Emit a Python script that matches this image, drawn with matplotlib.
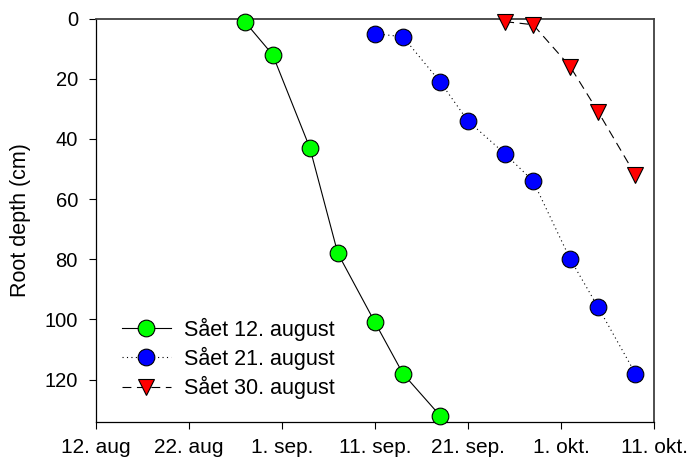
import matplotlib
matplotlib.use("Agg")
import matplotlib.pyplot as plt
import matplotlib.dates as mdates
import datetime as dt

plt.rcParams['font.family'] = ['Liberation Sans', 'DejaVu Sans']

# Data
dates_12aug = ["2000-08-28", "2000-08-31", "2000-09-04", "2000-09-07", "2000-09-11", "2000-09-14", "2000-09-18"]
depth_12aug = [1, 12, 43, 78, 101, 118, 132]

dates_21aug = ["2000-09-11", "2000-09-14", "2000-09-18", "2000-09-21", "2000-09-25", "2000-09-28",
               "2000-10-02", "2000-10-05", "2000-10-09"]
depth_21aug = [5, 6, 21, 34, 45, 54, 80, 96, 118]

dates_30aug = ["2000-09-25", "2000-09-28", "2000-10-02", "2000-10-05", "2000-10-09"]
depth_30aug = [1, 2, 16, 31, 52]

tick_dates = ["2000-08-12", "2000-08-22", "2000-09-01", "2000-09-11", "2000-09-21", "2000-10-01", "2000-10-11"]
tick_labels = ["12. aug", "22. aug", "1. sep.", "11. sep.", "21. sep.", "1. okt.", "11. okt."]
y_ticks = [0, 20, 40, 60, 80, 100, 120]

labels = ["Sået 12. august", "Sået 21. august", "Sået 30. august"]

def to_dt(lst):
    return [dt.datetime.strptime(s, "%Y-%m-%d") for s in lst]

fig = plt.figure(figsize=(6.94, 4.58), dpi=100)
ax = fig.add_axes([0.1383, 0.0793, 0.9424 - 0.1383, 0.9592 - 0.0793])

ms = 12
ax.plot(to_dt(dates_12aug), depth_12aug, color='black', lw=0.8, linestyle='-',
        marker='o', ms=ms, mfc='#00ff00', mec='black', mew=0.8, label=labels[0], clip_on=False, zorder=3)
ax.plot(to_dt(dates_21aug), depth_21aug, color='black', lw=0.8, linestyle=(0, (1, 3)),
        marker='o', ms=ms, mfc='#0000ff', mec='black', mew=0.8, label=labels[1], clip_on=False, zorder=3)
ax.plot(to_dt(dates_30aug), depth_30aug, color='black', lw=0.8, linestyle=(0, (8, 5)),
        marker='v', ms=ms, mfc='#ff0000', mec='black', mew=0.8, label=labels[2], clip_on=False, zorder=3)

ax.set_xlim(mdates.date2num(dt.datetime(2000, 8, 12)), mdates.date2num(dt.datetime(2000, 10, 11)))
ax.set_ylim(134, 0)

ax.set_xticks([mdates.date2num(d) for d in to_dt(tick_dates)])
ax.set_xticklabels(tick_labels)
ax.set_yticks(y_ticks)

ax.tick_params(axis='both', direction='out', length=5, width=0.8)
ax.tick_params(axis='x', labelsize=15, pad=7)
ax.tick_params(axis='y', labelsize=14.5, pad=8)
ax.tick_params(top=False, right=False)

for s in ['left', 'bottom']:
    ax.spines[s].set_color('black')
    ax.spines[s].set_linewidth(0.9)
for s in ['top', 'right']:
    ax.spines[s].set_color('#404040')
    ax.spines[s].set_linewidth(1.3)

ax.set_ylabel("Root depth (cm)", fontsize=15.5, labelpad=10)

leg = ax.legend(loc='center left', bbox_to_anchor=(0.047, 0.157), frameon=False, fontsize=15.5,
                handlelength=2.25, handletextpad=0.6, labelspacing=0.28, borderaxespad=0.0,
                borderpad=0.0)

fig.savefig("out.png", dpi=100)
